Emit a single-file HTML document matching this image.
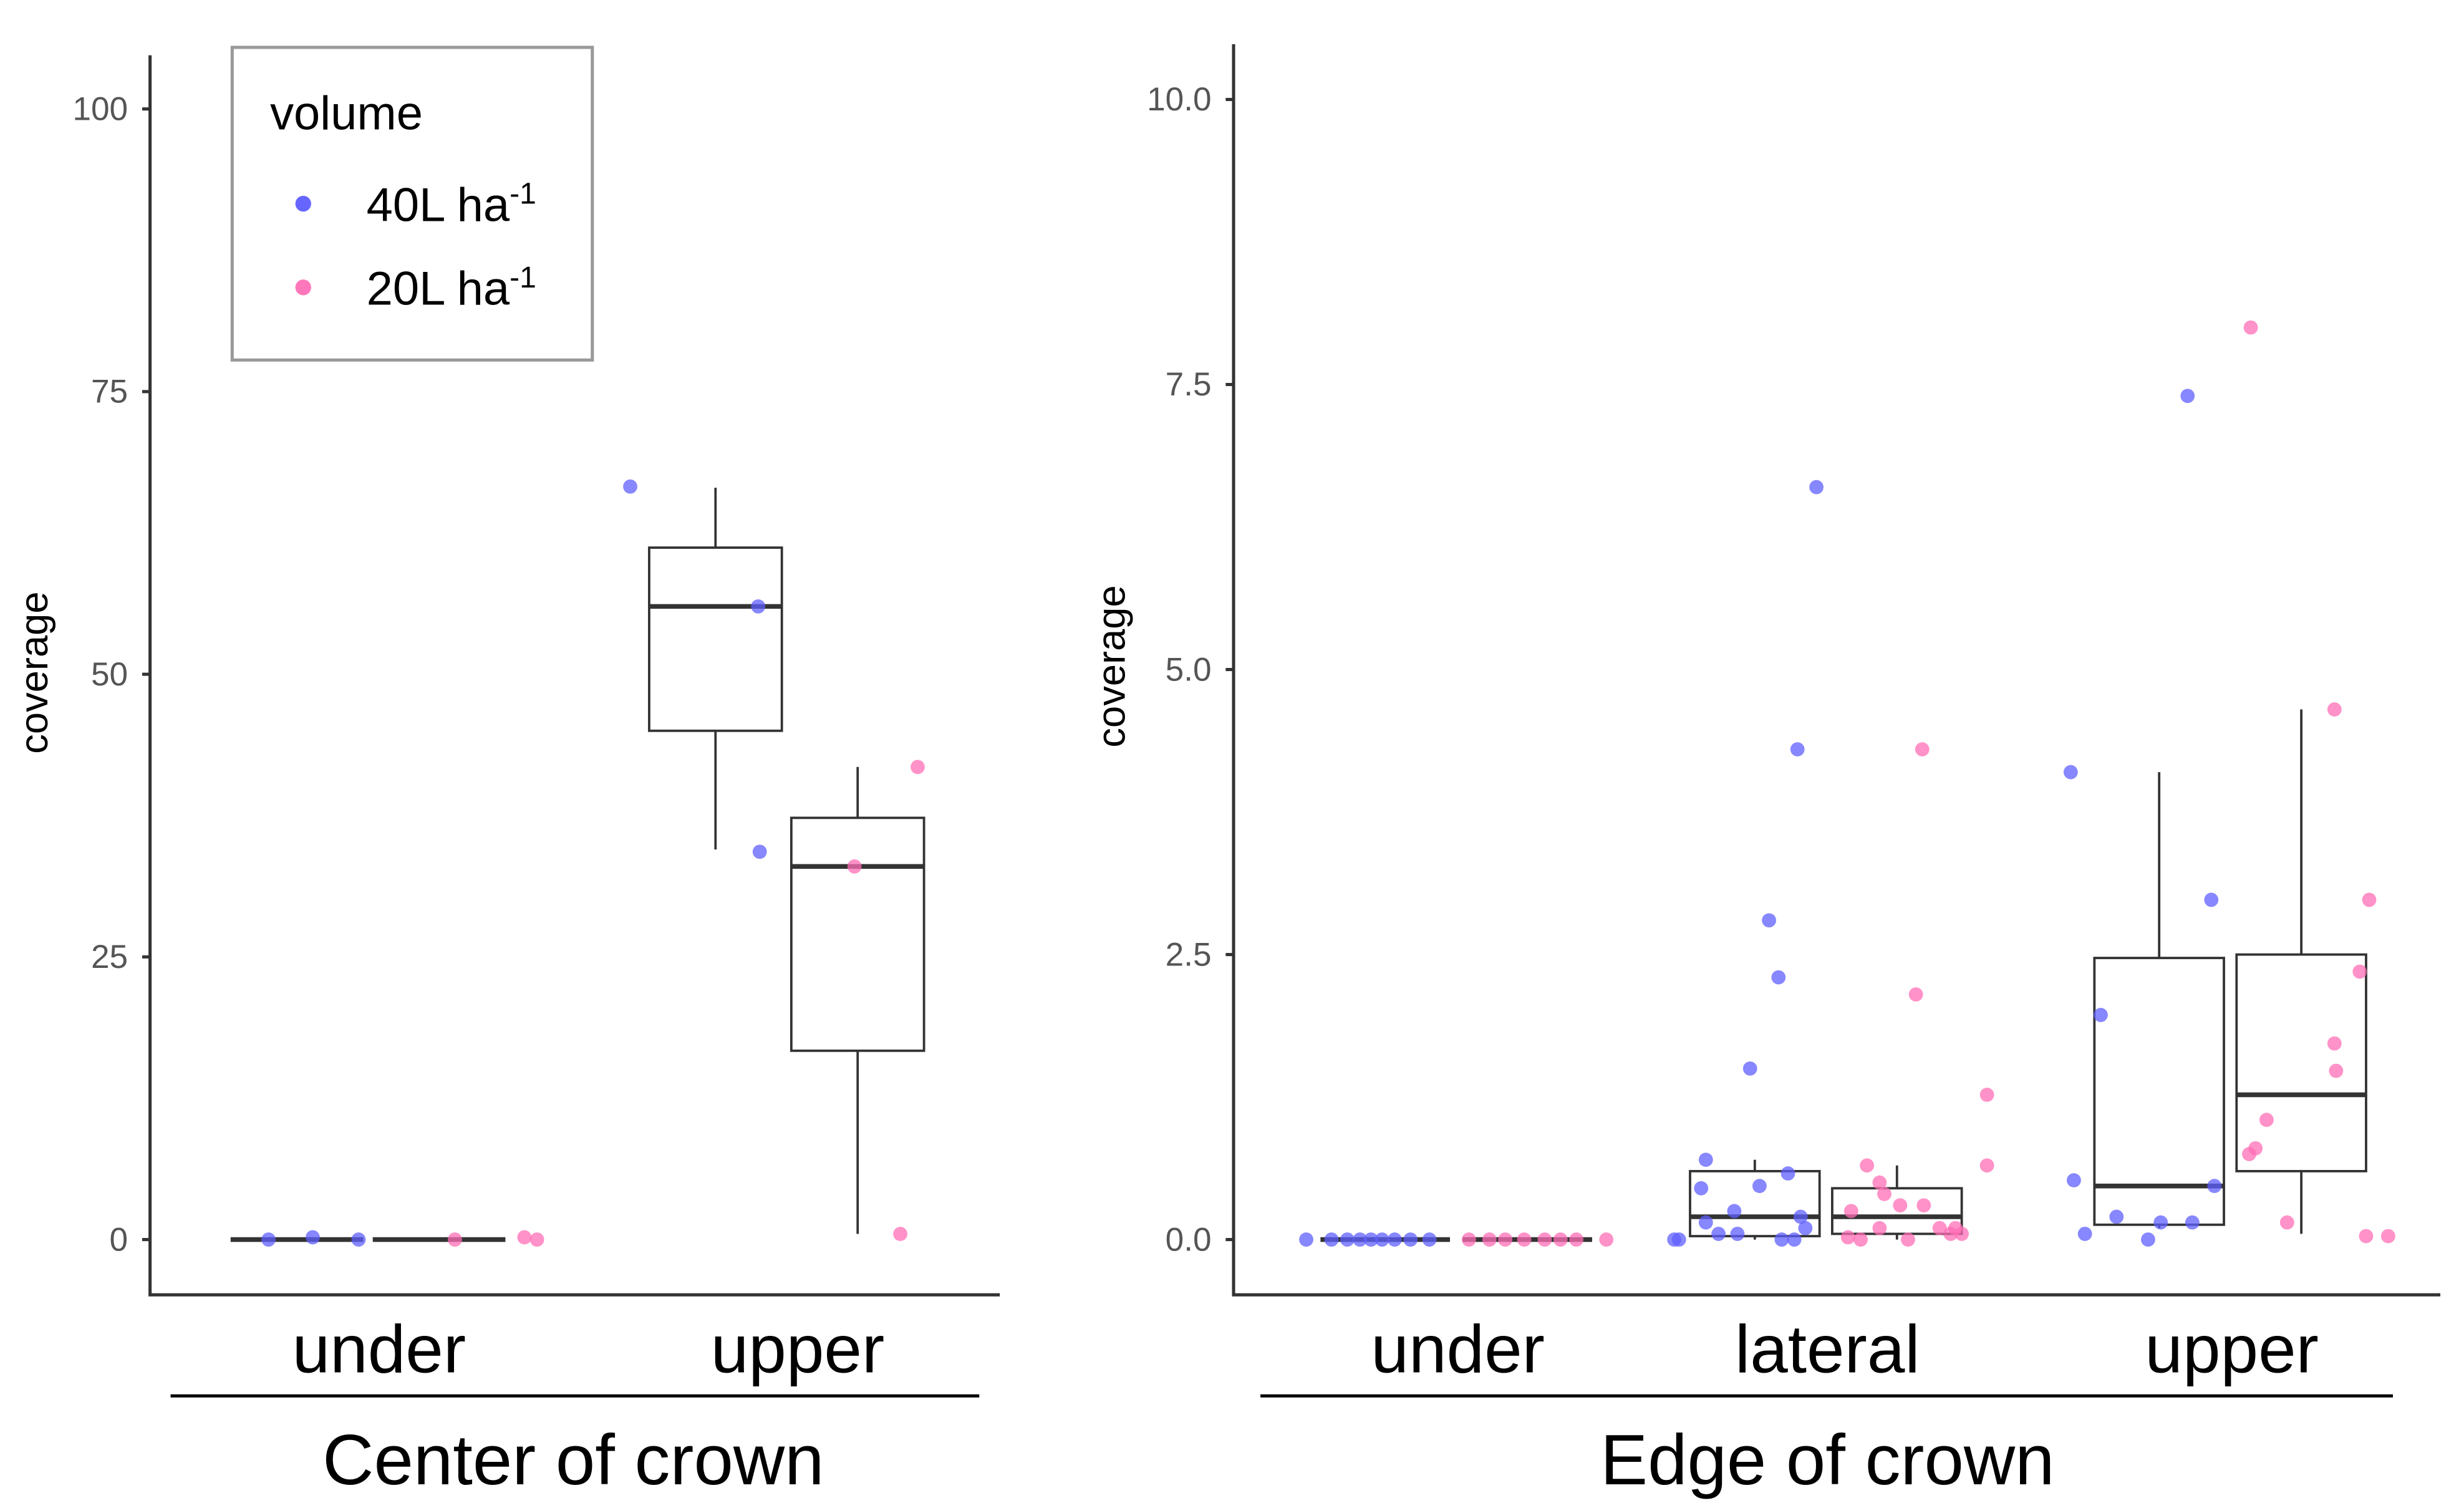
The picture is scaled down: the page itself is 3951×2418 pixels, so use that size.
<!DOCTYPE html>
<html><head><meta charset="utf-8"><style>
html,body{margin:0;padding:0;background:#fff;}
svg{display:block;font-family:"Liberation Sans",sans-serif;}
</style></head><body>
<svg id="chart" width="3951" height="2418" viewBox="0 0 1560 955" preserveAspectRatio="none" xmlns="http://www.w3.org/2000/svg">
<rect width="1560" height="955" fill="#fff"/>
<g id="left"></g>
<g id="right"></g>
<g>
<rect x="147" y="30" width="228" height="198" fill="#fff" stroke="#999" stroke-width="2"/>
<text x="171" y="82" font-size="30" fill="#000">volume</text>
<circle cx="192" cy="129" r="5" fill="#6666ff"/>
<text x="232" y="140" font-size="30" fill="#000">40L ha<tspan dy="-11" font-size="19">-1</tspan></text>
<circle cx="192" cy="182" r="5" fill="#ff77bb"/>
<text x="232" y="193" font-size="30" fill="#000">20L ha<tspan dy="-11" font-size="19">-1</tspan></text>
</g>
</svg>
<script>
// ---- Center of crown data ----
const leftCats = ["under","upper"];
const leftTicks = [0,25,50,75,100];
const leftBox40 = [[0,0,0,0,0],[34.5,45,56,61.2,66.5]]; // [lo,q1,med,q3,hi]
const leftBox20 = [[0,0,0,0,0],[0.5,16.7,33,37.3,41.8]];
const leftPts40Cat = [0,0,0,1,1,1];
const leftPts40Val = [0,0.2,0,66.6,56,34.3];
const leftPts40Jit = [-70,-42,-13,-106,-25,-24];
const leftPts20Cat = [0,0,0,1,1,1];
const leftPts20Val = [0,0.2,0,33,41.8,0.5];
const leftPts20Jit = [48,92,100,36,76,65];
// ---- Edge of crown data ----
const rightCats = ["under","lateral","upper"];
const rightTicks = [0,2.5,5,7.5,10];
const rightTickLabels = ["0.0","2.5","5.0","7.5","10.0"];
const rightBox40 = [[0,0,0,0,0],[0,0.03,0.2,0.6,0.7],[0.1,0.13,0.47,2.47,4.1]];
const rightBox20 = [[0,0,0,0,0],[0,0.05,0.2,0.45,0.65],[0.05,0.6,1.27,2.5,4.65]];
const rightPts40Cat = [0,0,0,0,0,0,0,0,0, 1,1,1,1,1,1,1,1,1,1,1,1,1,1,1,1,1,1,1, 2,2,2,2,2,2,2,2,2,2,2];
const rightPts40Val = [0,0,0,0,0,0,0,0,0, 0,0,0.05,0.45,0.7,0.15,0.25,0.05,1.5,0.47,2.8,2.3,4.3,6.6,0.58,0,0,0.2,0.1, 4.1,0.52,0.05,1.97,0.2,0,0.15,7.4,0.15,2.98,0.47];
const rightPts40Jit = [-96,-80,-70,-62,-55,-48,-40,-30,-18, -97,-94,-69,-80,-77,-77,-59,-57,-49,-43,-37,-31,-19,-7,-25,-29,-21,-17,-14, -102,-100,-93,-83,-73,-53,-45,-28,-25,-13,-11];
const rightPts20Cat = [0,0,0,0,0,0,0,0, 1,1,1,1,1,1,1,1,1,1,1,1,1,1,1,1,1,1, 2,2,2,2,2,2,2,2,2,2,2,2];
const rightPts20Val = [0,0,0,0,0,0,0,0, 0.02,0.25,0,0.65,0.5,0.4,0.1,0.3,0,2.15,4.3,0.3,0.1,0.05,0.1,1.27,0.65,0.05, 8.0,0.75,0.8,1.05,0.15,4.65,1.72,1.48,2.35,2.98,0.03,0.03];
const rightPts20Jit = [7,20,30,42,55,65,75,94, 13,15,21,25,33,36,33,46,51,56,60,61,71,78,81,101,101,85, 12,11,15,22,35,65,65,66,81,87,85,99];

const NS="http://www.w3.org/2000/svg";
function mk(parent,tag,attrs){const e=document.createElementNS(NS,tag);for(const k in attrs)e.setAttribute(k,attrs[k]);parent.appendChild(e);return e;}

function panel(g,cfg){
  const y=v=>cfg.y0+(v-cfg.vmin)*(cfg.y1-cfg.y0)/(cfg.vmax-cfg.vmin);
  const xc=i=>cfg.centers[i];
  const ax=mk(g,"path",{d:`M${cfg.axX},${cfg.top}V${cfg.axY}H${cfg.axEnd}`,fill:"none",stroke:"#333","stroke-width":2});
  
  
  cfg.ticks.forEach((t,i)=>{
    const tk=mk(g,"line",{x1:cfg.axX-5,x2:cfg.axX,y1:y(t),y2:y(t),stroke:"#333","stroke-width":2});
    
    
    const tl=mk(g,"text",{x:cfg.axX-14,y:y(t)+7,"text-anchor":"end","font-size":21,fill:"#555"});
    tl.textContent=cfg.tickLabels?cfg.tickLabels[i]:t;
    
    
  });
  const yt=mk(g,"text",{transform:`translate(${cfg.titleX},${cfg.titleY}) rotate(-90)`,"text-anchor":"middle","font-size":25,fill:"#000"});
  yt.textContent="coverage";
  
  
  cfg.cats.forEach((c,i)=>{
    const t=mk(g,"text",{x:xc(i),y:869,"text-anchor":"middle","font-size":43,fill:"#000"});
    t.textContent=c;
    
    
  });
  const ln=mk(g,"line",{x1:cfg.lineX0,x2:cfg.lineX1,y1:884,y2:884,stroke:"#000","stroke-width":2});
  
  
  const gt=mk(g,"text",{x:cfg.groupX,y:940,"text-anchor":"middle","font-size":45,fill:"#000"});
  gt.textContent=cfg.group;
  
  
  [[cfg.box40,cfg.d40,'-40l'],[cfg.box20,cfg.d20,'-20l']].forEach(([boxes,d,n])=>{
    boxes.forEach((b,i)=>{
      const cx=xc(i)+d, l=cx-cfg.bw/2, r=cx+cfg.bw/2;
      const w=mk(g,"path",{d:`M${cx},${y(b[0])}V${y(b[1])}M${cx},${y(b[3])}V${y(b[4])}`,stroke:"#333","stroke-width":1.5,fill:"none"});
      
      
      const bx=mk(g,"rect",{x:l,y:y(b[3]),width:r-l,height:Math.max(0,y(b[1])-y(b[3])),fill:"#fff",stroke:"#333","stroke-width":1.5});
      
      
      const md=mk(g,"line",{x1:l,x2:r,y1:y(b[2]),y2:y(b[2]),stroke:"#333","stroke-width":3});
      
      
    });
  });
  [[cfg.p40c,cfg.p40v,cfg.p40j,"#5f5fff","40l"],[cfg.p20c,cfg.p20v,cfg.p20j,"#ff6db6","20l"]].forEach(([cs,vs,js,col,n])=>{
    vs.forEach((v,k)=>{
      const p=mk(g,"circle",{cx:xc(cs[k])+js[k],cy:y(v),r:4.5,fill:col,"fill-opacity":0.75});
      
      
    });
  });
}
panel(document.getElementById("left"),{
  vmin:0,vmax:100,y0:785,y1:69,centers:[240,505],d40:-52,d20:38,bw:84,
  axX:95,top:35,axY:820,axEnd:633,ticks:leftTicks,titleX:30,titleY:426,
  cats:leftCats,lineX0:108,lineX1:620,groupX:363,group:"Center of crown",
  box40:leftBox40,box20:leftBox20,p40c:leftPts40Cat,p40v:leftPts40Val,p40j:leftPts40Jit,
  p20c:leftPts20Cat,p20v:leftPts20Val,p20j:leftPts20Jit});
panel(document.getElementById("right"),{
  vmin:0,vmax:10,y0:785,y1:63,centers:[923,1157,1413],d40:-46,d20:44,bw:82,
  axX:781,top:28,axY:820,axEnd:1545,ticks:rightTicks,tickLabels:rightTickLabels,titleX:712,titleY:422,
  cats:rightCats,lineX0:798,lineX1:1515,groupX:1157,group:"Edge of crown",
  box40:rightBox40,box20:rightBox20,p40c:rightPts40Cat,p40v:rightPts40Val,p40j:rightPts40Jit,
  p20c:rightPts20Cat,p20v:rightPts20Val,p20j:rightPts20Jit});
</script>
</body></html>
